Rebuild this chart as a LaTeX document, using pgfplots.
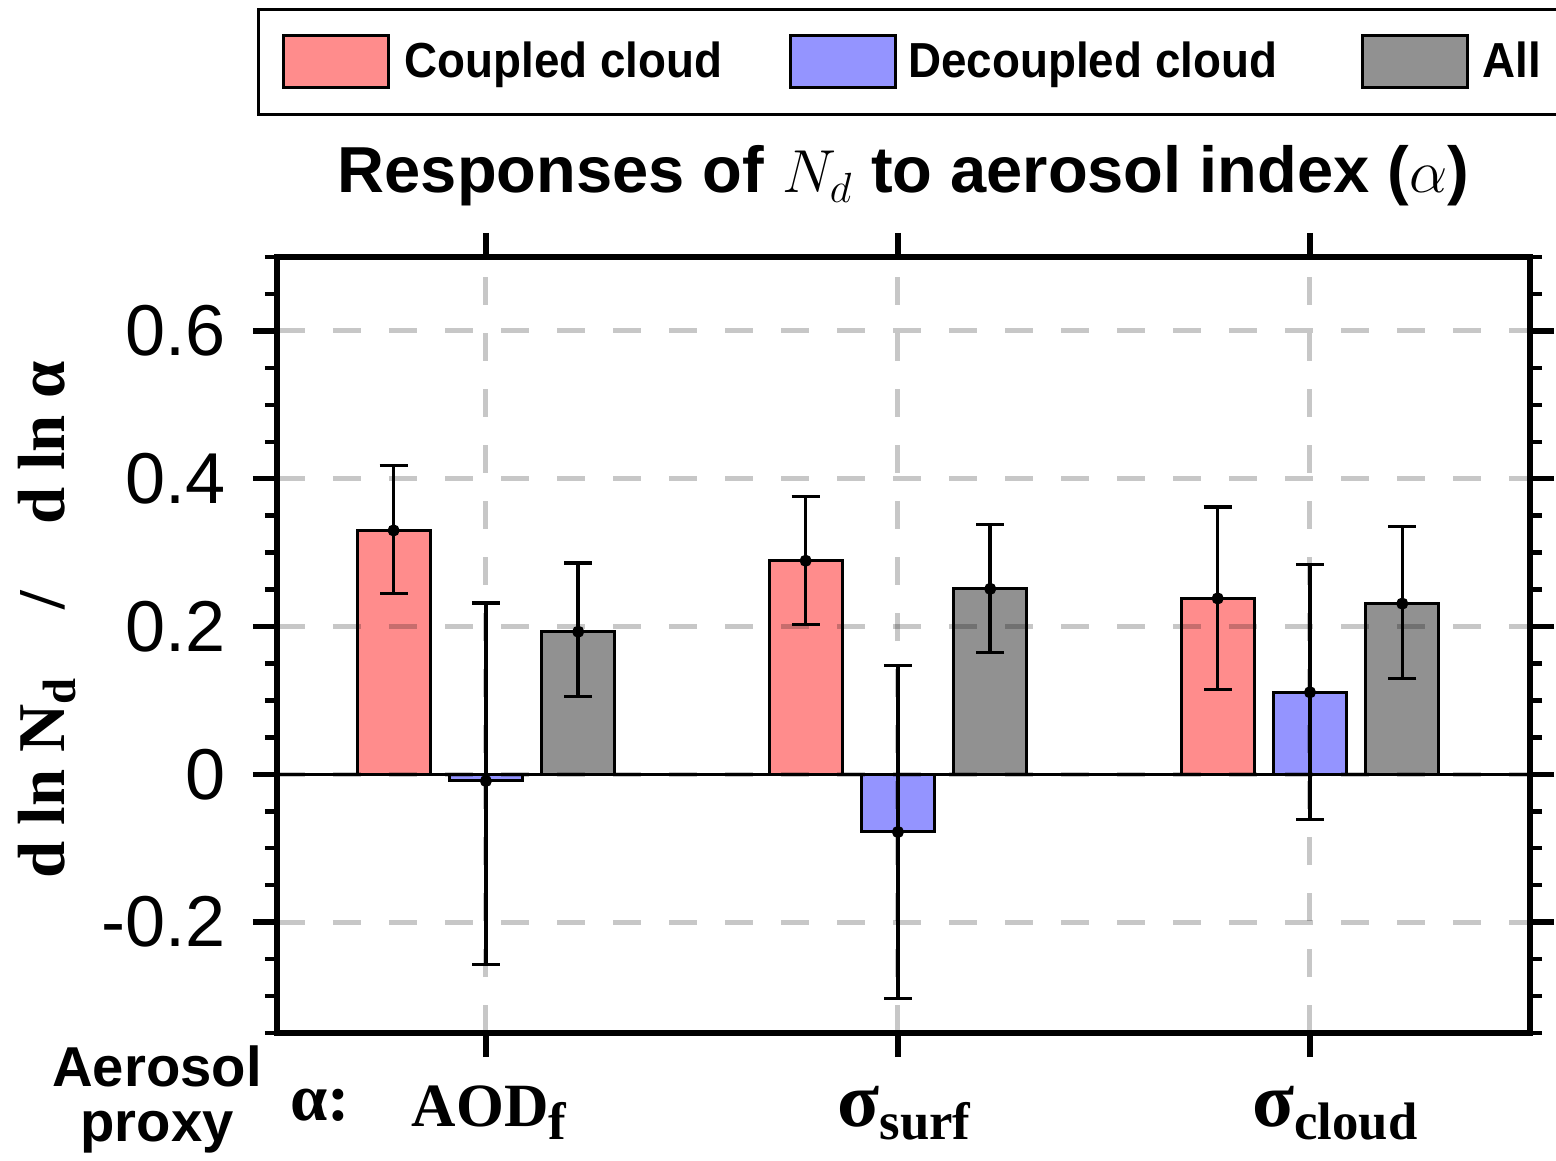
\documentclass[border=0pt]{standalone}
\usepackage{fontspec}
\setmainfont{Liberation Sans}
\newfontfamily\serifbf{Liberation Serif}
\newfontfamily\legfont[FakeStretch=0.93]{Liberation Sans}
\usepackage{pgfplots}
\usepackage{pgfplotstable}
\pgfplotsset{compat=1.18}

\definecolor{cpl}{RGB}{255,140,140}
\definecolor{dcp}{RGB}{148,148,255}
\definecolor{allc}{RGB}{145,145,145}

\newcommand{\sub}[1]{\raisebox{-0.22em}{\fontsize{15}{15}\selectfont #1}}
\newcommand{\bigsig}{{\fontsize{22}{22}\selectfont σ}}

% x: bar centre, y: slope, ep/em: error up/down
\pgfplotstableread{
x     y      ep    em
0.776 0.330  0.088 0.085
1.776 0.289  0.087 0.086
2.776 0.238  0.124 0.123
}\coupled
\pgfplotstableread{
x     y      ep    em
1.000 -0.009 0.241 0.248
2.000 -0.078 0.225 0.225
3.000 0.111  0.173 0.172
}\decoupled
\pgfplotstableread{
x     y      ep    em
1.224 0.193  0.093 0.088
2.224 0.251  0.087 0.086
3.224 0.231  0.104 0.101
}\allclouds

\pgfplotsset{
  barstyle/.style={
    ybar, bar shift=0pt, bar width=7.3mm, draw=black, line width=0.3mm,
    mark=*, mark size=0.45mm, mark options={fill=black, draw=black, solid},
    forget plot,
    /pgfplots/error bars/y dir=both, /pgfplots/error bars/y explicit,
    /pgfplots/error bars/error bar style={line width=0.35mm, black},
    /pgfplots/error bars/error mark options={line width=0.35mm, mark size=1.4mm, black, rotate=90}
  }
}

\begin{document}
\begin{tikzpicture}
\begin{axis}[
  scale only axis, width=125.3mm, height=77.6mm,
  xmin=0.493, xmax=3.534, ymin=-0.35, ymax=0.7,
  xtick={1,2,3},
  xticklabels={\hspace{0.6mm}AOD\sub{f},
               \hspace{1.2mm}\bigsig\sub{surf},
               \hspace{5.0mm}\bigsig\sub{cloud}},
  ytick={-0.2,0,0.2,0.4,0.6},
  yticklabels={-0.2,0,0.2,0.4,0.6},
  minor ytick={-0.35,-0.3,...,0.7},
  tick align=outside,
  major tick length=2.4mm, minor tick length=1.2mm,
  xmajorgrids, ymajorgrids,
  major grid style={black, opacity=0.22, line width=0.5mm, dash pattern=on 2.8mm off 2.8mm},
  axis line style={line width=0.6mm},
  major tick style={line width=0.55mm, black},
  minor tick style={line width=0.45mm, black},
  axis on top,
  yticklabel style={font=\fontsize{20.5}{22}\selectfont, xshift=-1.5mm},
  xticklabel style={font=\serifbf\bfseries\fontsize{17.5}{19}\selectfont, anchor=base, yshift=-6.9mm},
  legend columns=3,
  legend cell align=left,
  legend style={at={(axis description cs:-0.016,1.3209)}, anchor=north west,
    draw=black, line width=0.3mm, inner xsep=2.4mm, inner ysep=2.5mm,
    column sep=0pt, nodes={inner sep=0pt},
    font=\legfont\bfseries\fontsize{14}{16}\selectfont},
]
\addplot[fill=cpl, barstyle] table[x=x, y=y, y error plus=ep, y error minus=em] {\coupled};
\addplot[fill=dcp, barstyle] table[x=x, y=y, y error plus=ep, y error minus=em] {\decoupled};
\addplot[fill=allc, barstyle] table[x=x, y=y, y error plus=ep, y error minus=em] {\allclouds};
\draw[line width=0.25mm] (axis cs:0.493,0) -- (axis cs:3.534,0);

\addlegendimage{legend image code/.code={\draw[fill=cpl, draw=black, line width=0.3mm] (0mm,-2.6mm) rectangle (10.5mm,2.6mm);}}
\addlegendentry{\makebox[39.9mm][l]{\hspace{1.4mm}Coupled cloud}}
\addlegendimage{legend image code/.code={\draw[fill=dcp, draw=black, line width=0.3mm] (0mm,-2.6mm) rectangle (10.5mm,2.6mm);}}
\addlegendentry{\makebox[46.4mm][l]{\hspace{1.1mm}Decoupled cloud}}
\addlegendimage{legend image code/.code={\draw[fill=allc, draw=black, line width=0.3mm] (0mm,-2.6mm) rectangle (10.5mm,2.6mm);}}
\addlegendentry{\makebox[9.8mm][l]{\hspace{1.3mm}All}}
\end{axis}

\node[anchor=base, font=\bfseries\fontsize{18.5}{20}\selectfont] at (62.65mm,84.0mm)
  {Responses of $N_d$ to aerosol index ($\alpha$)};
\node[rotate=90, font=\serifbf\bfseries\fontsize{19}{21}\selectfont] at (-23.0mm,41.3mm)
  {d ln N\textsubscript{d}\quad/\quad d ln α};
\node[anchor=base, font=\bfseries\fontsize{16}{18}\selectfont] at (-12.0mm,-5.3mm) {Aerosol};
\node[anchor=base, font=\bfseries\fontsize{16}{18}\selectfont] at (-12.0mm,-10.8mm) {proxy};
\node[anchor=base west, inner sep=0pt, font=\serifbf\bfseries\fontsize{19}{21}\selectfont] at (1.3mm,-8.7mm) {α:};

\pgfresetboundingbox
\path[use as bounding box] (-27.7mm,-12.7mm) rectangle (127.9mm,103.3mm);
\end{tikzpicture}
\end{document}
